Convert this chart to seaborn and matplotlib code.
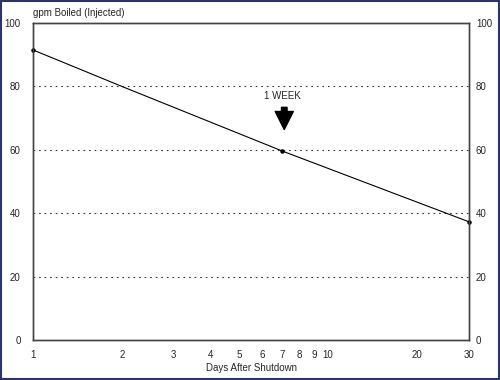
import seaborn as sns
import matplotlib.pyplot as plt
import matplotlib.ticker as mticker
import pandas as pd

# values
days = [1, 2, 7, 30]
gpm_boiled = [91.5, 80.0, 59.6, 37.3]
marker_days = [1, 7, 30]
marker_gpm = [91.5, 59.6, 37.3]
x_ticks = [1, 2, 3, 4, 5, 6, 7, 8, 9, 10, 20, 30]
y_ticks = [0, 20, 40, 60, 80, 100]
week_day = 7.1

sns.set_style("white")
plt.rcParams['font.family'] = ['Liberation Sans', 'DejaVu Sans']

df = pd.DataFrame({'days': days, 'gpm': gpm_boiled})

fig = plt.figure(figsize=(5, 3.8), dpi=100)
ax = fig.add_axes([0.066, 0.105, 0.872, 0.8345])

sns.lineplot(df, x='days', y='gpm', color='black', linewidth=0.8, ax=ax)
ax.scatter(marker_days, marker_gpm, s=5, color='black', zorder=3, clip_on=False)

ax.set_xscale('log')
ax.set_xlim(1, 30)
ax.set_ylim(0, 100)
ax.xaxis.set_major_locator(mticker.FixedLocator(x_ticks))
ax.xaxis.set_major_formatter(mticker.FixedFormatter([str(t) for t in x_ticks]))
ax.xaxis.set_minor_locator(mticker.NullLocator())
ax.set_yticks(y_ticks)

for y in y_ticks[1:-1]:
    ax.axhline(y, color='#2a3560', linestyle=(0, (1.5, 3.5)), linewidth=0.8, zorder=1)

ax.tick_params(axis='x', direction='in', length=5, width=0.8, color='#444444',
               labelsize=7, pad=7)
ax.tick_params(axis='y', length=0, labelsize=7, pad=9)

ax2 = ax.twinx()
ax2.set_ylim(0, 100)
ax2.set_yticks(y_ticks)
ax2.tick_params(axis='y', length=0, labelsize=7, pad=5)

for a in (ax, ax2):
    for s in a.spines.values():
        s.set_color('#444444')
        s.set_linewidth(1.0)

ax.set_xlabel("Days After Shutdown", fontsize=7, labelpad=2)
ax.set_ylabel("")
ax.text(0.0, 1.015, "gpm Boiled (Injected)", transform=ax.transAxes,
        fontsize=7, ha='left', va='bottom')

# 1 week marker
ax.annotate("", xy=(week_day, 66.4), xytext=(week_day, 73.4),
            arrowprops=dict(arrowstyle='simple,head_length=1.3,head_width=1.3,tail_width=0.4',
                            color='black', shrinkA=0, shrinkB=0))
ax.text(week_day * 0.985, 77, "1 WEEK", fontsize=7, ha='center', va='center')

# navy frame round the figure
fig.patches.append(plt.Rectangle((0.002, 0.003), 0.996, 0.994, transform=fig.transFigure,
                                 fill=False, edgecolor='#2a3570', linewidth=1.5))

plt.savefig("out.png", dpi=100)
